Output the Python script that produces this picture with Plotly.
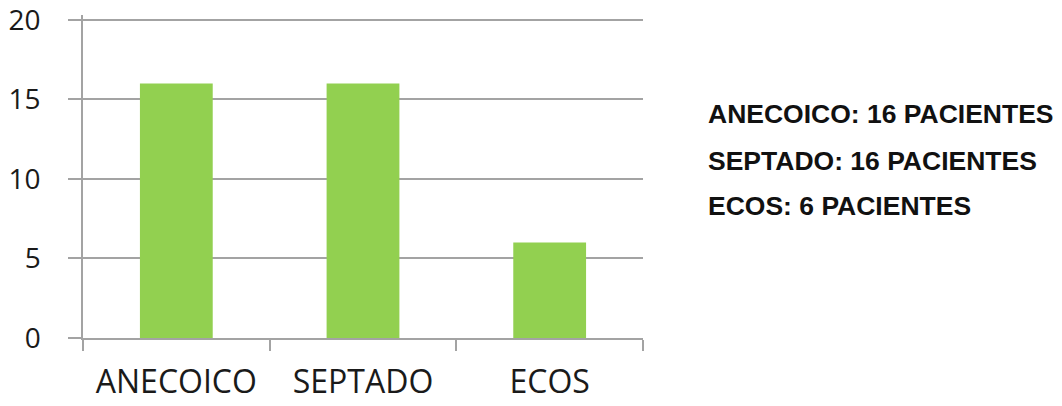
import plotly.graph_objects as go

categories = ["ANECOICO", "SEPTADO", "ECOS"]
pacientes = [16, 16, 6]
y_ticks = [0, 5, 10, 15, 20]
notes = ["ANECOICO: 16 PACIENTES", "SEPTADO: 16 PACIENTES", "ECOS: 6 PACIENTES"]

GRID = "#A3A3A3"
BAR = "#92D050"

Y_TOP = 20.3
PX_PER_UNIT = (338 - 20) / 20.0
plot_h = Y_TOP * PX_PER_UNIT
top_margin = 338 - plot_h

fig = go.Figure(go.Bar(x=categories, y=pacientes, marker=dict(color=BAR, line=dict(width=0)),
                       width=0.39))

fig.update_layout(
    width=1062, height=406, autosize=False,
    margin=dict(l=83, r=419, t=top_margin, b=68, pad=0),
    paper_bgcolor="white", plot_bgcolor="white",
    showlegend=False,
    font=dict(family="Open Sans", color="#1a1a1a"),
)
fig.update_yaxes(
    range=[0, Y_TOP], tickvals=y_ticks, showgrid=True, gridcolor=GRID, gridwidth=1.5,
    zeroline=False, showline=True, linecolor=GRID, linewidth=1.5,
    ticks="outside", ticklen=13, tickcolor=GRID, tickwidth=1.5,
    tickfont=dict(size=28, family="Open Sans", color="#1a1a1a"),
    ticklabelstandoff=22, automargin=False, ticklabeloverflow="allow",
)
fig.update_xaxes(
    showline=True, linecolor=GRID, linewidth=1.5,
    ticks="outside", ticklen=11, tickcolor=GRID, tickwidth=1.5, tickson="boundaries",
    tickfont=dict(size=32, family="Open Sans", color="#1a1a1a"),
    ticklabelstandoff=15, automargin=False, ticklabeloverflow="allow",
)

ys = [114, 161, 206]
for txt, yp in zip(notes, ys):
    fig.add_annotation(
        text=txt, xref="paper", yref="y",
        x=(706 - 83) / (643 - 83), y=(338 - yp) / PX_PER_UNIT,
        xanchor="left", yanchor="middle", showarrow=False,
        font=dict(family="Liberation Sans", size=26.5, color="#111111", weight="bold"),
    )

fig.write_html(
    "out.html",
    config={"displayModeBar": False},
    post_script="document.body.style.margin='0';document.body.style.overflow='hidden';",
)
